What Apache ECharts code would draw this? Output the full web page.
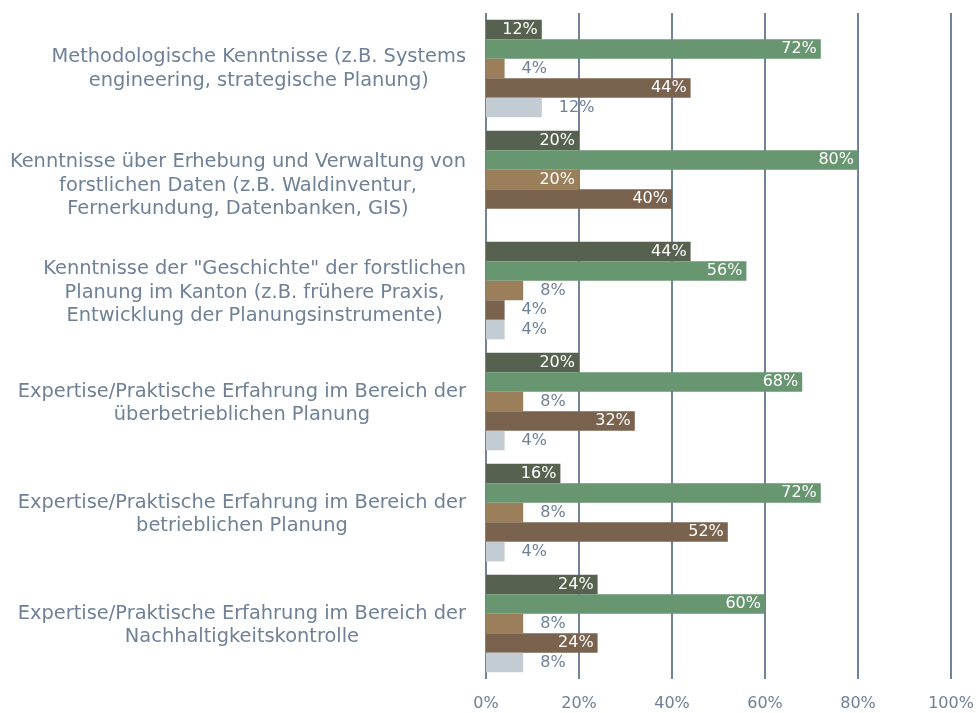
<!DOCTYPE html>
<html>
<head>
<meta charset="utf-8">
<script src="https://cdn.jsdelivr.net/npm/echarts@6/dist/echarts.min.js"></script>
<style>
  html, body { margin: 0; padding: 0; background: #fff; }
  #chart { width: 979px; height: 713px; }
</style>
</head>
<body>
<div id="chart"></div>
<script>
// Competence areas (top to bottom)
const categories = [
  'Methodologische Kenntnisse (z.B. Systems\nengineering, strategische Planung)',
  'Kenntnisse über Erhebung und Verwaltung von\nforstlichen Daten (z.B. Waldinventur,\nFernerkundung, Datenbanken, GIS)',
  'Kenntnisse der "Geschichte" der forstlichen\nPlanung im Kanton (z.B. frühere Praxis,\nEntwicklung der Planungsinstrumente)',
  'Expertise/Praktische Erfahrung im Bereich der\nüberbetrieblichen Planung',
  'Expertise/Praktische Erfahrung im Bereich der\nbetrieblichen Planung',
  'Expertise/Praktische Erfahrung im Bereich der\nNachhaltigkeitskontrolle'
];

// Share of answers per group, in percent
const seriesA = [12, 20, 44, 20, 16, 24];
const seriesB = [72, 80, 56, 68, 72, 60];
const seriesC = [4, 20, 8, 8, 8, 8];
const seriesD = [44, 40, 4, 32, 52, 24];
const seriesE = [12, null, 4, 4, 4, 8];

const xTicks = [0, 20, 40, 60, 80, 100];

const textGrey = '#6e8197';
const colors = ['#56624f', '#679670', '#9b7f5b', '#7a634e', '#c3cbd3'];

const groups = [
  { name: 'A', values: seriesA, light: false },
  { name: 'B', values: seriesB, light: false },
  { name: 'C', values: seriesC, light: false },
  { name: 'D', values: seriesD, light: false },
  { name: 'E', values: seriesE, light: true }
];

function buildData(values, light) {
  return values.map(function (v) {
    if (v === null) return '-';
    const inside = !light && v >= 10;
    return {
      value: v,
      label: inside
        ? { position: 'insideRight', distance: 4, color: '#ffffff' }
        : { position: 'right', distance: 17, color: textGrey }
    };
  });
}

// Category labels: small vertical nudges per block
const labelPadTop = [1, 12, 4, 4, 4, 4];
const categoryData = categories.map(function (c, i) {
  return { value: c, textStyle: { padding: [labelPadTop[i], 0, 0, 0] } };
});

const chart = echarts.init(document.getElementById('chart'), null, { renderer: 'canvas' });

chart.setOption({
  animation: false,
  backgroundColor: '#ffffff',
  textStyle: { fontFamily: 'DejaVu Sans' },
  grid: { left: 486, right: 28, top: 13, bottom: 34, containLabel: false },
  xAxis: {
    type: 'value',
    min: xTicks[0],
    max: xTicks[xTicks.length - 1],
    interval: 20,
    axisLine: { show: false },
    axisTick: { show: false },
    splitLine: { show: true, lineStyle: { color: '#70839a', width: 2 } },
    axisLabel: {
      formatter: '{value}%',
      color: textGrey,
      fontSize: 16,
      margin: 17,
      fontFamily: 'DejaVu Sans'
    }
  },
  yAxis: {
    type: 'category',
    inverse: true,
    data: categoryData,
    axisLine: { show: false },
    axisTick: { show: false },
    splitLine: { show: false },
    axisLabel: {
      margin: 20,
      color: textGrey,
      fontSize: 19.4,
      lineHeight: 23.5,
      fontFamily: 'DejaVu Sans',
      formatter: function (v) {
        return v.split('\n').map(function (l) { return '{c|' + l + '}'; }).join('\n');
      },
      rich: {
        c: { align: 'center', color: textGrey, fontSize: 19.4, lineHeight: 23.5, fontFamily: 'DejaVu Sans' }
      }
    }
  },
  series: groups.map(function (g, i) {
    return {
      name: g.name,
      type: 'bar',
      data: buildData(g.values, g.light),
      itemStyle: { color: colors[i] },
      barGap: '0%',
      barCategoryGap: '12%',
      label: {
        show: true,
        formatter: '{c}%',
        fontSize: 16,
        fontFamily: 'DejaVu Sans'
      }
    };
  })
});
</script>
</body>
</html>
